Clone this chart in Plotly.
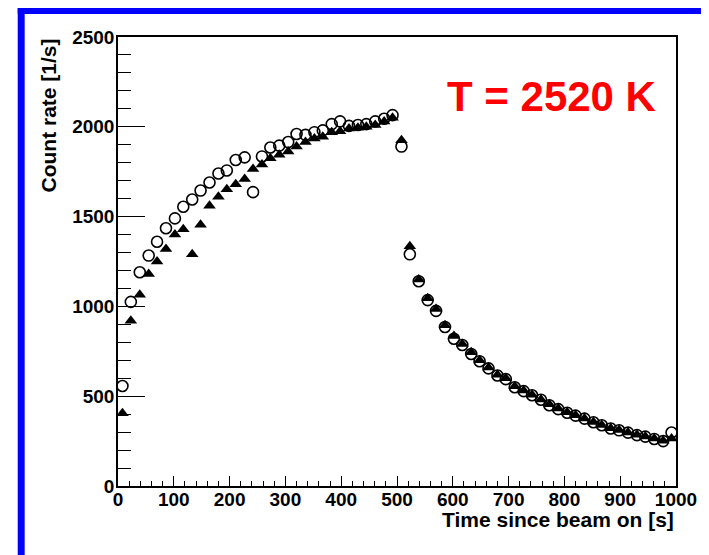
import plotly.graph_objects as go

# ---- data ----
time_s = [8, 23, 39, 55, 70, 86, 102, 117, 133, 148, 164, 180, 195, 211, 227, 242,
          258, 273, 289, 305, 320, 336, 352, 367, 383, 398, 414, 430, 445, 461, 477, 492,
          508, 523, 539, 555, 570, 586, 602, 617, 633, 648, 664, 680, 695, 711, 727, 742,
          758, 773, 789, 805, 820, 836, 852, 867, 883, 898, 914, 930, 945, 961, 977, 992]

circles = [557, 1025, 1190, 1283, 1360, 1435, 1490, 1555, 1595, 1645, 1690, 1740, 1757, 1815, 1830, 1636,
           1835, 1885, 1895, 1915, 1960, 1955, 1970, 1980, 2015, 2030, 2005, 2010, 2015, 2030, 2045, 2065,
           1890, 1290, 1140, 1035, 975, 885, 820, 785, 735, 695, 655, 615, 595, 550, 528, 505,
           480, 450, 428, 408, 392, 375, 355, 338, 320, 310, 297, 283, 275, 262, 250, 298]

triangles = [405, 920, 1065, 1180, 1250, 1320, 1400, 1430, 1290, 1455, 1560, 1610, 1652, 1680, 1710, 1765,
             1790, 1825, 1845, 1862, 1890, 1915, 1935, 1945, 1970, 1975, 1990, 1995, 2000, 2010, 2030, 2050,
             1925, 1335, 1150, 1045, 985, 895, 835, 790, 745, 700, 660, 620, 600, 555, 532, 508,
             482, 455, 432, 410, 394, 376, 357, 340, 322, 312, 298, 285, 276, 265, 252, 265]

x_ticks = [0, 100, 200, 300, 400, 500, 600, 700, 800, 900, 1000]
y_ticks = [0, 500, 1000, 1500, 2000, 2500]

x_title = "Time since beam on [s]"
y_title = "Count rate [1/s]"
label_text = "T = 2520 K"

# ---- layout geometry (page pixels; the page body has an 8 px margin) ----
OFF = 8
W, H = 709 - OFF, 555 - OFF
L, R, T, B = 118 - OFF, 680 - OFF, 37 - OFF, 486 - OFF
pw, ph = R - L, B - T

def px(x_page):
    return (x_page - OFF - L) / pw

def py(y_page):
    return (B - (y_page - OFF)) / ph

FONT = "Liberation Sans, Arial, sans-serif"

fig = go.Figure()
fig.add_trace(go.Scatter(
    x=time_s, y=circles, mode="markers",
    marker=dict(symbol="circle-open", size=11, color="black", line=dict(width=1.6, color="black")),
    showlegend=False))
fig.add_trace(go.Scatter(
    x=time_s, y=triangles, mode="markers",
    marker=dict(symbol="triangle-up", size=11, color="black", line=dict(width=0)),
    showlegend=False))

axis_common = dict(
    showgrid=False, zeroline=False, showline=True, linecolor="black", linewidth=1.5,
    mirror=True, ticks="inside", tickcolor="black", tickwidth=1,
    tickfont=dict(family=FONT, size=19, color="black", weight="bold"),
)

fig.update_xaxes(range=[0, 1000], tickvals=x_ticks, ticktext=[str(v) for v in x_ticks],
                 ticklen=10, ticklabelstandoff=-5,
                 minor=dict(dtick=20, tick0=0, ticks="inside", ticklen=5, tickcolor="black", tickwidth=1),
                 **axis_common)
fig.update_yaxes(range=[0, 2500], tickvals=y_ticks, ticktext=[str(v) for v in y_ticks],
                 ticklen=27, ticklabelstandoff=-2,
                 minor=dict(dtick=100, tick0=0, ticks="inside", ticklen=13, tickcolor="black", tickwidth=1),
                 **axis_common)

annotations = [
    dict(text=x_title, xref="paper", yref="paper", x=1.0, y=py(519), xanchor="right", yanchor="middle",
         showarrow=False, font=dict(family=FONT, size=21, color="black", weight="bold")),
    dict(text=y_title, xref="paper", yref="paper", x=px(47), y=py(37), xanchor="center", yanchor="top",
         textangle=-90, showarrow=False, font=dict(family=FONT, size=21, color="black", weight="bold")),
    dict(text=label_text, xref="paper", yref="paper", x=px(555), y=py(96), xanchor="center", yanchor="middle",
         showarrow=False, font=dict(family=FONT, size=42, color="#ff0000", weight="bold")),
]

shapes = [
    dict(type="rect", xref="paper", yref="paper", x0=px(17), x1=px(720), y0=py(14), y1=py(0),
         fillcolor="#0000ff", line=dict(width=0), layer="above"),
    dict(type="rect", xref="paper", yref="paper", x0=px(17), x1=px(24), y0=py(570), y1=py(0),
         fillcolor="#0000ff", line=dict(width=0), layer="above"),
]

fig.update_layout(
    width=W, height=H, autosize=False,
    margin=dict(l=L, r=W - R, t=T, b=H - B, pad=0),
    paper_bgcolor="white", plot_bgcolor="white",
    annotations=annotations, shapes=shapes,
    font=dict(family=FONT, color="black"),
)

fig.write_html("out.html")
